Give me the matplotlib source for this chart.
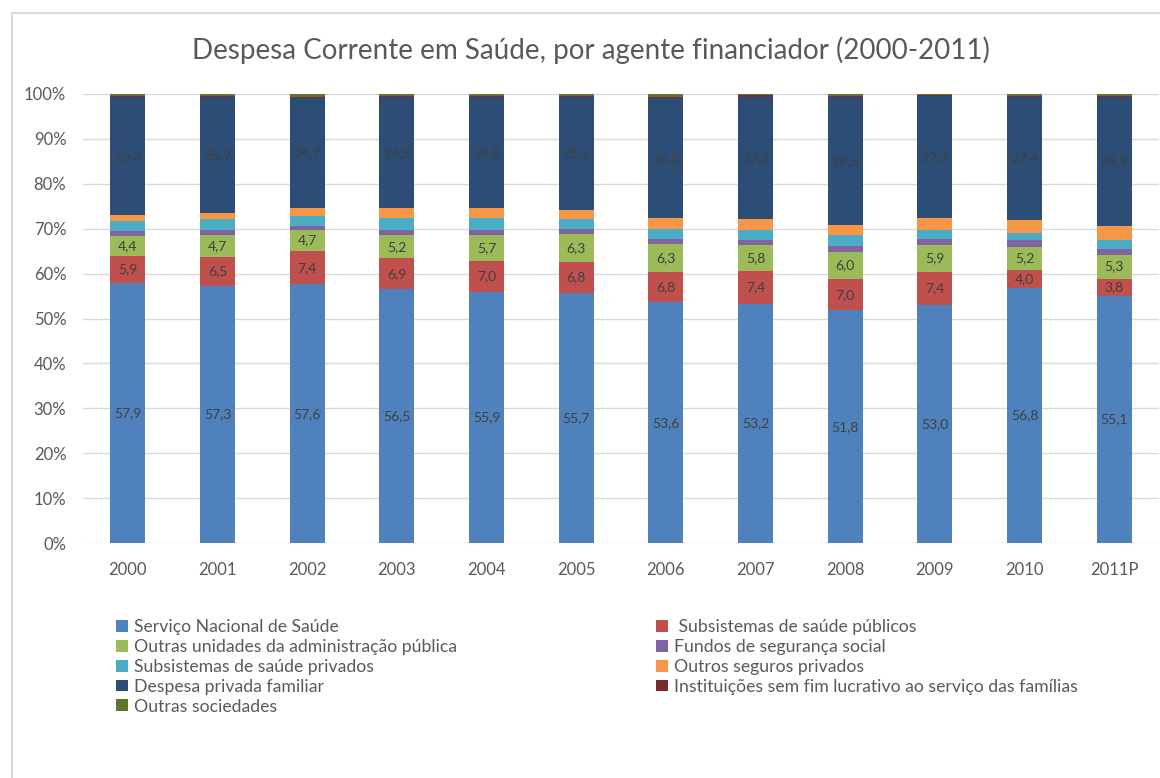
import numpy as np
import matplotlib
matplotlib.use("Agg")
import matplotlib.pyplot as plt
from matplotlib.patches import Patch, Rectangle
from matplotlib.ticker import PercentFormatter

plt.rcParams['font.family'] = ['Lato', 'DejaVu Sans']

years = ['2000', '2001', '2002', '2003', '2004', '2005',
         '2006', '2007', '2008', '2009', '2010', '2011P']

# shares (%) per financing agent
sns_pt = [57.9, 57.3, 57.6, 56.5, 55.9, 55.7, 53.6, 53.2, 51.8, 53.0, 56.8, 55.1]
subs_pub = [5.9, 6.5, 7.4, 6.9, 7.0, 6.8, 6.8, 7.4, 7.0, 7.4, 4.0, 3.8]
outras_adm = [4.4, 4.7, 4.7, 5.2, 5.7, 6.3, 6.3, 5.8, 6.0, 5.9, 5.2, 5.3]
fundos = [1.2, 1.3, 0.9, 1.1, 1.1, 1.1, 1.1, 1.1, 1.3, 1.4, 1.4, 1.2]
subs_priv = [2.3, 2.3, 2.3, 2.7, 2.7, 2.2, 2.2, 2.1, 2.4, 1.9, 1.6, 2.1]
seguros = [1.3, 1.4, 1.6, 2.1, 2.1, 2.1, 2.4, 2.5, 2.4, 2.7, 2.9, 3.0]
desp_priv = [26.3, 25.9, 24.7, 24.8, 24.8, 25.2, 26.8, 27.2, 28.5, 27.3, 27.4, 28.9]
instituicoes = [0.2, 0.2, 0.2, 0.2, 0.2, 0.2, 0.2, 0.4, 0.2, 0.1, 0.2, 0.2]
outras_soc = [0.4, 0.4, 0.6, 0.5, 0.5, 0.4, 0.6, 0.3, 0.4, 0.3, 0.5, 0.4]

# (legend label, values, colour, show data labels)
series = [
    ('Serviço Nacional de Saúde', sns_pt, '#4F81BD', True),
    (' Subsistemas de saúde públicos', subs_pub, '#C0504D', True),
    ('Outras unidades da administração pública', outras_adm, '#9BBB59', True),
    ('Fundos de segurança social', fundos, '#8064A2', False),
    ('Subsistemas de saúde privados', subs_priv, '#4BACC6', False),
    ('Outros seguros privados', seguros, '#F79646', False),
    ('Despesa privada familiar', desp_priv, '#2C4D75', True),
    ('Instituições sem fim lucrativo ao serviço das famílias', instituicoes, '#772C2A', False),
    ('Outras sociedades', outras_soc, '#5F7530', False),
]

W, H = 1160, 778
fig = plt.figure(figsize=(W / 100, H / 100), dpi=100)

# chart frame (light grey border, left and top visible)
fig.patches.append(Rectangle((12 / W, -0.01), 1.1, 1 - 13 / H + 0.01,
                             transform=fig.transFigure, fill=False,
                             edgecolor='#d9d9d9', linewidth=1.5))

ax = fig.add_axes([83 / W, 1 - 543 / H, (1159 - 83) / W, (543 - 94) / H])

# 100% stacked: normalise each year to its total
raw = np.array([s[1] for s in series])
shares = raw / raw.sum(axis=0) * 100
x = np.arange(len(years))
bottom = np.zeros(len(years))
handles = []
for (name, vals, color, show), h in zip(series, shares):
    bars = ax.bar(x, h, width=0.39, bottom=bottom, color=color, zorder=3)
    if show:
        labels = [f'{v:.1f}'.replace('.', ',') for v in vals]
        ax.bar_label(bars, labels=labels, label_type='center',
                     fontsize=10, color='#404040')
    handles.append(Patch(facecolor=color, label=name))
    bottom += h

ax.set_xlim(-0.5, len(years) - 0.5)
ax.set_ylim(0, 100)
ax.set_yticks(np.arange(0, 101, 10))
ax.yaxis.set_major_formatter(PercentFormatter(decimals=0))
ax.set_xticks(x)
ax.set_xticklabels(years)
ax.tick_params(length=0, labelsize=12, labelcolor='#595959')
ax.tick_params(axis='x', pad=14)
ax.tick_params(axis='y', pad=12)
ax.grid(axis='y', color='#d9d9d9', linewidth=1, zorder=0)
for sp in ax.spines.values():
    sp.set_visible(False)

fig.text(591 / W, 1 - 50 / H, 'Despesa Corrente em Saúde, por agente financiador (2000-2011)',
         ha='center', va='center', fontsize=20, color='#595959')

left = [handles[i] for i in (0, 2, 4, 6, 8)]
right = [handles[i] for i in (1, 3, 5, 7)]
for hs, xpos in ((left, 109), (right, 649)):
    leg = fig.legend(handles=hs, loc='upper left', bbox_to_anchor=(xpos / W, 1 - 612 / H),
                     frameon=False, fontsize=12.7, handlelength=0.65, handleheight=0.65,
                     handletextpad=0.35, labelspacing=0.22, borderaxespad=0)
    for t in leg.get_texts():
        t.set_color('#595959')

fig.savefig('out.png', dpi=100)
